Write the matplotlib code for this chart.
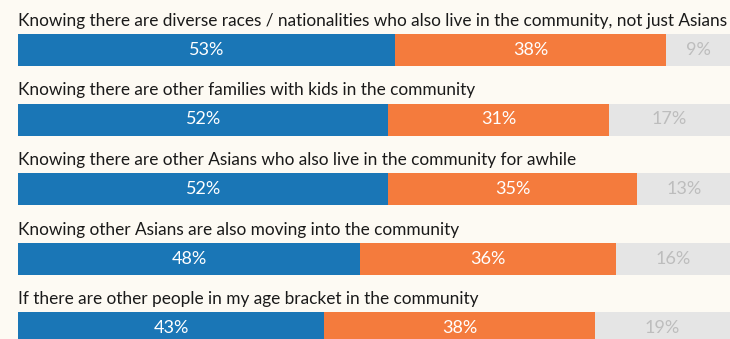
import matplotlib.pyplot as plt

# Survey answers, one stacked bar per statement
categories = [
    'Knowing there are diverse races / nationalities who also live in the community, not just Asians',
    'Knowing there are other families with kids in the community',
    'Knowing there are other Asians who also live in the community for awhile',
    'Knowing other Asians are also moving into the community',
    'If there are other people in my age bracket in the community',
]
very_important = [53, 52, 52, 48, 43]
somewhat_important = [38, 31, 35, 36, 38]
not_important = [9, 17, 13, 16, 19]

bg = '#fdfaf3'
blue = '#1a76b6'
orange = '#f47b3d'
grey = '#e5e5e5'

plt.rcParams['font.family'] = ['Lato', 'DejaVu Sans']

fig = plt.figure(figsize=(7.3, 3.39), dpi=100, facecolor=bg)
ax = fig.add_axes([18 / 730, 0, 1 - 18 / 730, 1])
ax.set_facecolor(bg)

row = 69.5          # px between bars
bar_h = 32 / row
y = list(range(len(categories)))

left2 = very_important
left3 = [a + b for a, b in zip(very_important, somewhat_important)]
ax.barh(y, very_important, height=bar_h, color=blue)
ax.barh(y, somewhat_important, left=left2, height=bar_h, color=orange)
ax.barh(y, not_important, left=left3, height=bar_h, color=grey)

for i in y:
    ax.text(0, i - bar_h / 2 - 8 / row, categories[i], fontsize=12.4,
            color='#1a1a1a', va='baseline', ha='left')
    ax.text(very_important[i] / 2, i, f'{very_important[i]}%', fontsize=13,
            color='white', va='center', ha='center')
    ax.text(left2[i] + somewhat_important[i] / 2, i, f'{somewhat_important[i]}%',
            fontsize=13, color='white', va='center', ha='center')
    ax.text(left3[i] + not_important[i] / 2, i, f'{not_important[i]}%',
            fontsize=13, color='#bdbdbd', va='center', ha='center')

ax.set_xlim(0, 100)
ax.set_ylim((339 - 50) / row, -50 / row)
ax.axis('off')

fig.savefig('out.png', dpi=100, facecolor=bg)
